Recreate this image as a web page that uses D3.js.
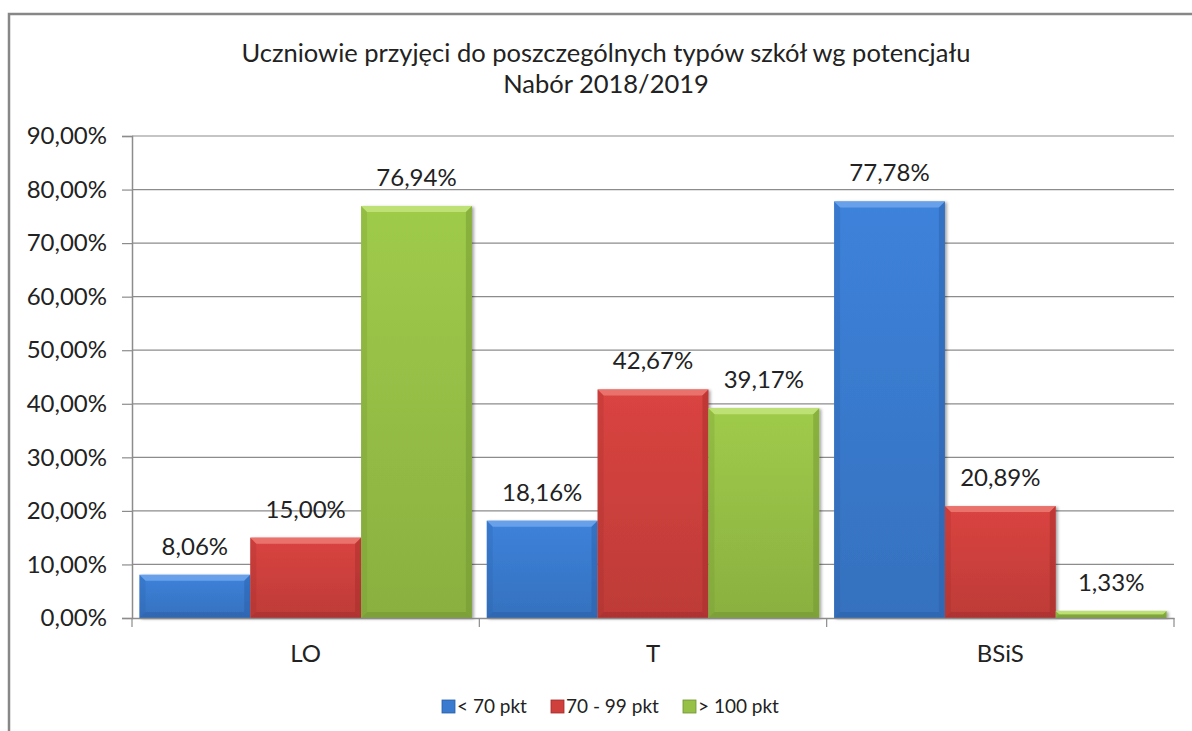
<!DOCTYPE html>
<html>
<head>
<meta charset="utf-8">
<script src="https://cdn.jsdelivr.net/npm/d3@7"></script>
<style>
  body { margin: 0; background: #fff; }
  text { font-family: Lato, "Open Sans", sans-serif; fill: #222; }
</style>
</head>
<body>
<div id="chart"></div>
<script>
// data
var categories = ["LO", "T", "BSiS"];
var seriesNames = ["< 70 pkt", "70 - 99 pkt", "> 100 pkt"];
var below70 = [8.06, 18.16, 77.78];
var from70to99 = [15.00, 42.67, 20.89];
var above100 = [76.94, 39.17, 1.33];
var yTicks = [0, 10, 20, 30, 40, 50, 60, 70, 80, 90];
var titleLines = ["Uczniowie przyjęci do poszczególnych typów szkół wg potencjału", "Nabór 2018/2019"];

var seriesValues = [below70, from70to99, above100];
var colors = [
  {base: "#3a7bd0", light: "#6fa6ec", dark: "#2a5ea6"},
  {base: "#cf403d", light: "#ec7a76", dark: "#a12c2a"},
  {base: "#97c046", light: "#c3e57b", dark: "#6f9230"}
];

function fmt(v) {
  return v.toFixed(2).replace(".", ",") + "%";
}

function drawChart() {
  var W = 1192, H = 731;
  var plot = {left: 132, right: 1174, top: 136, bottom: 618};

  var svg = d3.select("#chart").append("svg")
      .attr("width", W)
      .attr("height", H);

  var defs = svg.append("defs");
  var filter = defs.append("filter").attr("id", "shadow")
      .attr("x", "-10%").attr("y", "-10%").attr("width", "130%").attr("height", "130%");
  filter.append("feDropShadow")
      .attr("dx", 2).attr("dy", 1).attr("stdDeviation", 1.5)
      .attr("flood-color", "#000").attr("flood-opacity", 0.35);

  colors.forEach(function(c, i) {
    var g = defs.append("linearGradient").attr("id", "face" + i)
        .attr("x1", 0).attr("y1", 0).attr("x2", 0).attr("y2", 1);
    g.append("stop").attr("offset", "0%").attr("stop-color", d3.color(c.base).brighter(0.15));
    g.append("stop").attr("offset", "100%").attr("stop-color", d3.color(c.base).darker(0.25));
  });

  // outer frame
  svg.append("rect")
      .attr("x", 9).attr("y", 14)
      .attr("width", W + 20).attr("height", H + 20)
      .attr("fill", "none")
      .attr("stroke", "#878787")
      .attr("stroke-width", 2.5);

  // title
  svg.append("text")
      .attr("x", 606)
      .attr("text-anchor", "middle")
      .style("font-size", "25.5px")
      .selectAll("tspan")
      .data(titleLines)
      .enter().append("tspan")
      .attr("x", 606)
      .attr("y", function(d, i) { return 62 + i * 31; })
      .text(function(d) { return d; });

  var x0 = d3.scaleBand()
      .domain(categories)
      .range([plot.left, plot.right])
      .padding(0);

  var x1 = d3.scaleBand()
      .domain(d3.range(seriesNames.length))
      .range([0, x0.bandwidth()])
      .paddingInner(0)
      .paddingOuter(0.067);

  var y = d3.scaleLinear()
      .domain([0, 90])
      .range([plot.bottom, plot.top]);

  // gridlines + y axis
  var yAxis = d3.axisLeft(y)
      .tickValues(yTicks)
      .tickSize(10)
      .tickPadding(15)
      .tickFormat(function(d) { return d.toFixed(2).replace(".", ",") + "%"; });

  svg.append("g")
      .attr("class", "grid")
      .selectAll("line")
      .data(yTicks.filter(function(d) { return d > 0; }))
      .enter().append("line")
      .attr("x1", plot.left).attr("x2", plot.right)
      .attr("y1", function(d) { return y(d); })
      .attr("y2", function(d) { return y(d); })
      .attr("stroke", "#8c8c8c")
      .attr("stroke-width", 1.2);

  var gy = svg.append("g")
      .attr("class", "yAxis")
      .attr("transform", "translate(" + plot.left + ",0)")
      .call(yAxis);
  gy.select(".domain").attr("stroke", "#8c8c8c").attr("stroke-width", 1.5);
  gy.selectAll(".tick line").attr("stroke", "#8c8c8c").attr("stroke-width", 1.2);
  gy.selectAll(".tick text")
      .style("font-size", "24px")
      .style("font-family", "Lato, sans-serif")
      .attr("fill", "#222");

  // bars
  var groups = svg.append("g").selectAll("g.cat")
      .data(categories)
      .enter().append("g")
      .attr("class", "cat")
      .attr("transform", function(d) { return "translate(" + x0(d) + ",0)"; });

  groups.each(function(cat, ci) {
    var g = d3.select(this);
    seriesValues.forEach(function(vals, si) {
      var v = vals[ci];
      var bx = x1(si), bw = x1.bandwidth();
      var by = y(v), bh = y(0) - y(v);
      var b = Math.min(6, bh / 2);
      var c = colors[si];
      var bar = g.append("g").attr("filter", "url(#shadow)");
      bar.append("rect")
          .attr("x", bx).attr("y", by)
          .attr("width", bw).attr("height", bh)
          .attr("fill", "url(#face" + si + ")");
      // bevel: top light, sides and bottom darker
      bar.append("path")
          .attr("d", "M" + bx + "," + by + "L" + (bx + bw) + "," + by +
               "L" + (bx + bw - b) + "," + (by + b) + "L" + (bx + b) + "," + (by + b) + "Z")
          .attr("fill", c.light).attr("opacity", 0.85);
      bar.append("path")
          .attr("d", "M" + bx + "," + by + "L" + (bx + b) + "," + (by + b) +
               "L" + (bx + b) + "," + (by + bh - b) + "L" + bx + "," + (by + bh) + "Z")
          .attr("fill", c.dark).attr("opacity", 0.25);
      bar.append("path")
          .attr("d", "M" + (bx + bw) + "," + by + "L" + (bx + bw - b) + "," + (by + b) +
               "L" + (bx + bw - b) + "," + (by + bh - b) + "L" + (bx + bw) + "," + (by + bh) + "Z")
          .attr("fill", c.dark).attr("opacity", 0.45);
      bar.append("path")
          .attr("d", "M" + bx + "," + (by + bh) + "L" + (bx + b) + "," + (by + bh - b) +
               "L" + (bx + bw - b) + "," + (by + bh - b) + "L" + (bx + bw) + "," + (by + bh) + "Z")
          .attr("fill", c.dark).attr("opacity", 0.5);

      g.append("text")
          .attr("x", bx + bw / 2)
          .attr("y", by - 20)
          .attr("text-anchor", "middle")
          .style("font-size", "24px")
          .text(fmt(v));
    });
  });

  // x axis
  var xAxis = d3.axisBottom(x0).tickSize(0).tickPadding(27);
  var gx = svg.append("g")
      .attr("class", "xAxis")
      .attr("transform", "translate(0," + plot.bottom + ")")
      .call(xAxis);
  gx.select(".domain").attr("stroke", "#8c8c8c").attr("stroke-width", 1.5);
  gx.selectAll(".tick text")
      .style("font-size", "24px")
      .style("font-family", "Lato, sans-serif")
      .attr("fill", "#222");
  // category separators
  gx.selectAll("line.sep")
      .data(categories.concat(["end"]))
      .enter().append("line")
      .attr("class", "sep")
      .attr("x1", function(d, i) { return plot.left + i * x0.step(); })
      .attr("x2", function(d, i) { return plot.left + i * x0.step(); })
      .attr("y1", 0).attr("y2", 9)
      .attr("stroke", "#8c8c8c").attr("stroke-width", 1.2);

  // legend
  var legend = svg.append("g").attr("class", "legend");
  var legendX = [442, 551, 683];
  var items = legend.selectAll("g")
      .data(seriesNames)
      .enter().append("g")
      .attr("transform", function(d, i) { return "translate(" + legendX[i] + ",700)"; });
  items.append("rect")
      .attr("width", 13).attr("height", 13)
      .attr("fill", function(d, i) { return colors[i].base; })
      .attr("stroke", function(d, i) { return colors[i].dark; })
      .attr("stroke-width", 0.8);
  items.append("text")
      .attr("x", 15).attr("y", 13)
      .style("font-size", "19px")
      .text(function(d) { return d; });
}

drawChart();
</script>
</body>
</html>
